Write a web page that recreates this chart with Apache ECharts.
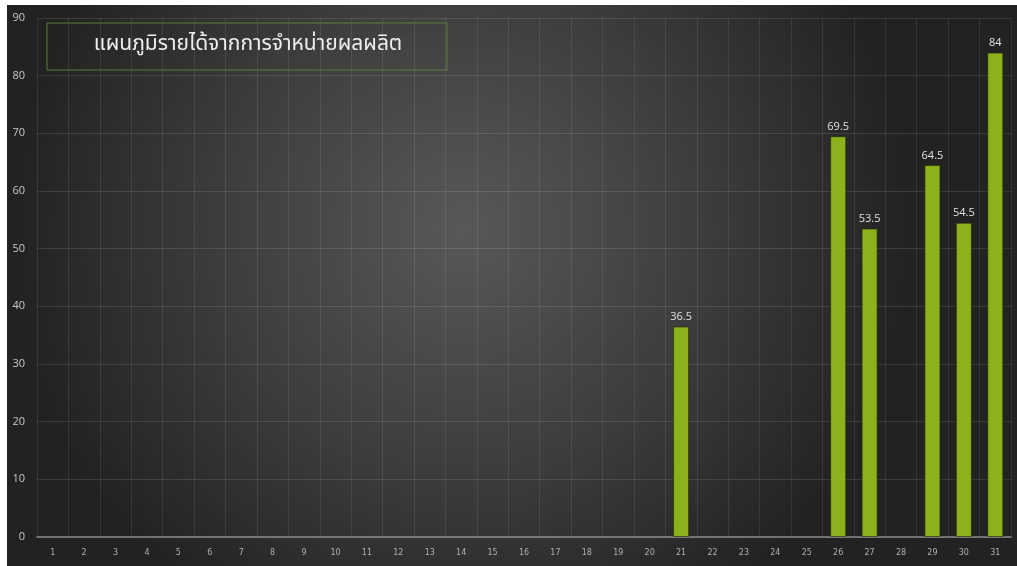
<!DOCTYPE html>
<html><head><meta charset="utf-8">
<script src="https://cdn.jsdelivr.net/npm/echarts@6/dist/echarts.min.js"></script>
<style>html,body{margin:0;padding:0;background:#fff}#c{width:1017px;height:566px}</style>
</head><body><div id="c"></div>
<script>
const titleText = 'แผนภูมิรายได้จากการจำหน่ายผลผลิต';
const days = ['1','2','3','4','5','6','7','8','9','10','11','12','13','14','15','16','17','18','19','20','21','22','23','24','25','26','27','28','29','30','31'];
const income = [null,null,null,null,null,null,null,null,null,null,null,null,null,null,null,null,null,null,null,null,36.5,null,null,null,null,69.5,53.5,null,64.5,54.5,84];
const yTicks = [0,10,20,30,40,50,60,70,80,90];

const chart = echarts.init(document.getElementById('c'), null, {renderer:'canvas'});
chart.setOption({
  backgroundColor:'#ffffff',
  animation:false,
  graphic:[
    {type:'rect', z:-10, silent:true, shape:{x:7,y:5,width:1010,height:561},
     style:{fill:{type:'radial',x:0.45,y:0.4,r:0.8,colorStops:[{offset:0,color:'#585858'},{offset:0.55,color:'#3c3c3c'},{offset:1,color:'#222222'}]}}},
    {type:'rect', z:10, shape:{x:47,y:23,width:400,height:47},
     style:{fill:'rgba(0,0,0,0)',stroke:'#5b7a3c',lineWidth:1}},
    {type:'text', z:11, x:248, y:46,
     style:{text:titleText, fill:'#eeeeee', font:'21px "Noto Sans Thai","Noto Sans","DejaVu Sans",sans-serif', textAlign:'center', textVerticalAlign:'middle'}}
  ],
  grid:{left:37,right:6,top:18,bottom:29},
  xAxis:{type:'category',data:days,
    axisLine:{lineStyle:{color:'#8a8a8a',width:1.5}},
    axisTick:{show:false},
    axisLabel:{color:'#b0b0b0',fontSize:8,margin:12,interval:0,fontFamily:'"DejaVu Sans",sans-serif'},
    splitLine:{show:true,interval:0,lineStyle:{color:'rgba(255,255,255,0.09)',width:1}}},
  yAxis:{type:'value',min:0,max:90,interval:10,
    axisLine:{show:false},axisTick:{show:false},
    axisLabel:{color:'#c8c8c8',fontSize:11,margin:12,fontFamily:'"Open Sans",sans-serif',
      formatter:v=>yTicks.includes(v)?String(v):''},
    splitLine:{lineStyle:{color:'rgba(255,255,255,0.11)',width:1}}},
  series:[{type:'bar',data:income,barWidth:'51%',
    itemStyle:{color:'#8cb21b',borderColor:'rgba(30,40,0,0.6)',borderWidth:1},
    label:{show:true,position:'top',distance:4,color:'#e0e0e0',fontSize:11,fontFamily:'"Open Sans",sans-serif'}}]
});
</script></body></html>
